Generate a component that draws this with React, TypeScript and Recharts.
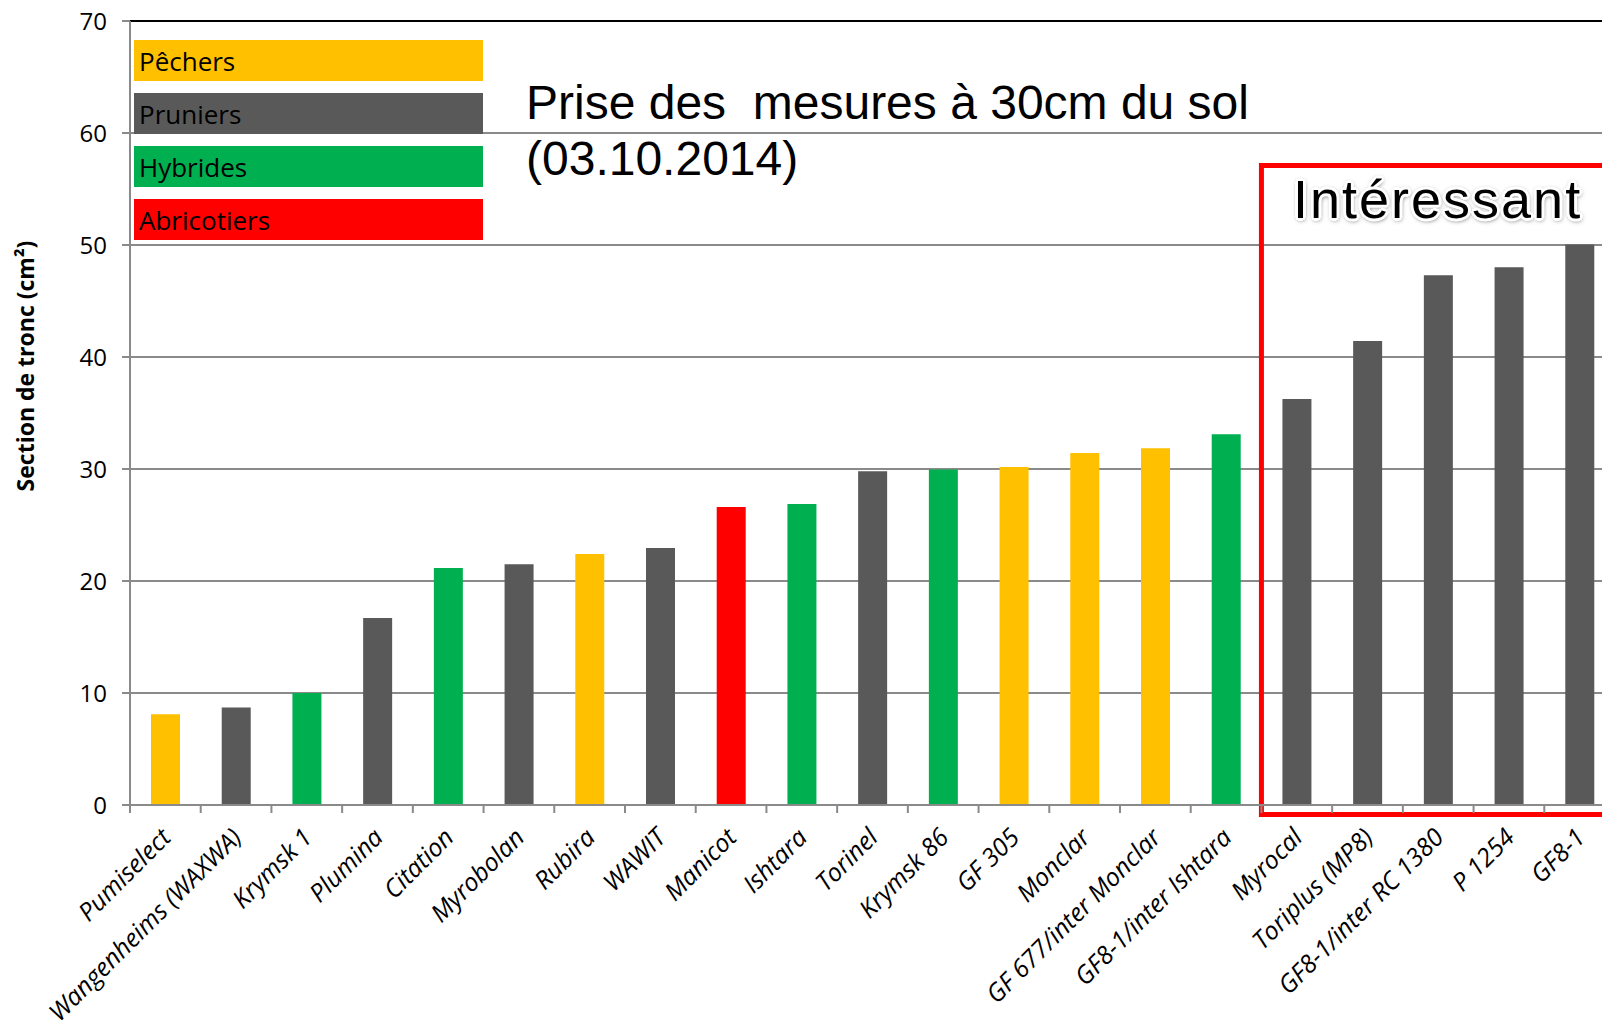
import React from "react";
import {
  BarChart,
  Bar,
  Cell,
  XAxis,
  YAxis,
  CartesianGrid,
  ReferenceLine,
  ReferenceArea,
} from "recharts";

// Porte-greffes, classés par section de tronc croissante
const CATEGORIES = [
  "Pumiselect",
  "Wangenheims (WAXWA)",
  "Krymsk 1",
  "Plumina",
  "Citation",
  "Myrobolan",
  "Rubira",
  "WAWIT",
  "Manicot",
  "Ishtara",
  "Torinel",
  "Krymsk 86",
  "GF 305",
  "Monclar",
  "GF 677/inter Monclar",
  "GF8-1/inter Ishtara",
  "Myrocal",
  "Toriplus (MP8)",
  "GF8-1/inter RC 1380",
  "P 1254",
  "GF8-1",
];

// Section de tronc (cm²)
const SECTIONS = [
  8.1, 8.7, 10.0, 16.7, 21.15, 21.5, 22.4, 22.95, 26.6, 26.87, 29.8, 29.95,
  30.17, 31.43, 31.85, 33.1, 36.25, 41.42, 47.3, 48.02, 50.05,
];

// 0 = pêchers, 1 = pruniers, 2 = hybrides, 3 = abricotiers
const CATEGORY_GROUP = [0, 1, 2, 1, 2, 1, 0, 1, 3, 2, 1, 2, 0, 0, 0, 2, 1, 1, 1, 1, 1];

const GROUP_LABELS = ["Pêchers", "Pruniers", "Hybrides", "Abricotiers"];
const GROUP_COLORS = ["#FFC000", "#595959", "#00B050", "#FF0000"];

const Y_TICKS = [0, 10, 20, 30, 40, 50, 60, 70];

// cadre "Intéressant"
const BOX_FROM = "Myrocal";
const BOX_TO = "GF8-1";
const BOX_BOTTOM = -0.85;
const BOX_TOP = 57.1;

const CHART_W = 1615;
const CHART_H = 1028;
const Y_AXIS_W = 130;
const TOP = 21;
const X_AXIS_H = 223;
const LABEL_MARGIN = 27;
const STEP = (CHART_W - Y_AXIS_W) / CATEGORIES.length;

const GRID = "#8a8a8a";
const FONT = "'Open Sans', 'Noto Sans', sans-serif";

const data = CATEGORIES.map((name, i) => ({
  name,
  value: SECTIONS[i],
  group: CATEGORY_GROUP[i],
}));

function CategoryTick(props: any) {
  const { x, y, payload, index } = props;
  const axisY = y - LABEL_MARGIN;
  return (
    <g>
      {index === 0 && (
        <line x1={x - STEP / 2} x2={x - STEP / 2} y1={axisY} y2={axisY + 8} stroke={GRID} strokeWidth={2} />
      )}
      <line x1={x + STEP / 2} x2={x + STEP / 2} y1={axisY} y2={axisY + 8} stroke={GRID} strokeWidth={2} />
      <text
        x={x}
        y={y}
        transform={`rotate(-45 ${x} ${y})`}
        textAnchor="end"
        dominantBaseline="central"
        fontFamily={FONT}
        fontStyle="italic"
        fontSize={25}
        fill="#000"
      >
        {payload.value}
      </text>
    </g>
  );
}

function AxisTitle() {
  return (
    <text
      x={25}
      y={366}
      transform="rotate(-90 25 366)"
      textAnchor="middle"
      dominantBaseline="central"
      fontFamily={FONT}
      fontWeight="bold"
      fontSize={23}
      fill="#000"
    >
      Section de tronc (cm²)
    </text>
  );
}

export default function App() {
  return (
    <div
      style={{
        position: "fixed",
        left: 0,
        top: 0,
        width: 1602,
        height: 1028,
        overflow: "hidden",
        background: "#fff",
        fontFamily: FONT,
      }}
    >
      <BarChart
        width={CHART_W}
        height={CHART_H}
        data={data}
        margin={{ top: TOP, right: 0, left: 0, bottom: 0 }}
      >
        <CartesianGrid vertical={false} stroke={GRID} strokeWidth={2} />
        <XAxis
          dataKey="name"
          interval={0}
          height={X_AXIS_H}
          tickSize={0}
          tickMargin={LABEL_MARGIN}
          tickLine={false}
          axisLine={{ stroke: GRID, strokeWidth: 2 }}
          tick={<CategoryTick />}
        />
        <YAxis
          width={Y_AXIS_W}
          domain={[0, 70]}
          ticks={Y_TICKS}
          interval={0}
          tickSize={8}
          tickMargin={15}
          axisLine={{ stroke: GRID, strokeWidth: 2 }}
          tickLine={{ stroke: GRID, strokeWidth: 2 }}
          tick={{ fill: "#000", fontSize: 24, fontFamily: FONT }}
          label={<AxisTitle />}
        />
        <ReferenceLine y={70} stroke="#000" strokeWidth={2} />
        <Bar dataKey="value" barSize={29} isAnimationActive={false}>
          {data.map((d, i) => (
            <Cell key={`cell-${i}`} fill={GROUP_COLORS[d.group]} />
          ))}
        </Bar>
        <ReferenceArea
          x1={BOX_FROM}
          x2={BOX_TO}
          y1={BOX_BOTTOM}
          y2={BOX_TOP}
          fill="none"
          fillOpacity={0}
          stroke="#FF0000"
          strokeWidth={5}
          strokeOpacity={1}
          ifOverflow="visible"
        />
      </BarChart>

      {/* Légende des groupes */}
      <div style={{ position: "absolute", left: 134, top: 40, width: 349 }}>
        {GROUP_LABELS.map((label, i) => (
          <div
            key={label}
            style={{
              height: 41,
              lineHeight: "43px",
              marginBottom: 12,
              background: GROUP_COLORS[i],
              color: "#000",
              fontSize: 26,
              paddingLeft: 5,
              whiteSpace: "nowrap",
            }}
          >
            {label}
          </div>
        ))}
      </div>

      {/* Titre */}
      <div
        style={{
          position: "absolute",
          left: 526,
          top: 75,
          fontFamily: "'Liberation Sans', Arial, sans-serif",
          fontSize: 48,
          lineHeight: "56px",
          color: "#000",
          whiteSpace: "pre",
        }}
      >
        {"Prise des  mesures à 30cm du sol\n(03.10.2014)"}
      </div>

      <div
        style={{
          position: "absolute",
          left: 1293,
          top: 172,
          fontFamily: "'Liberation Sans', Arial, sans-serif",
          fontSize: 54,
          lineHeight: "54px",
          letterSpacing: 2,
          color: "#000",
          whiteSpace: "nowrap",
          textShadow:
            "2px 0 #fff, -2px 0 #fff, 0 2px #fff, 0 -2px #fff, 2px 2px #fff, -2px -2px #fff, 2px -2px #fff, -2px 2px #fff, 3px 0 #fff, -3px 0 #fff, 0 3px #fff, 0 -3px #fff, 0 0 4px #333, 1px 2px 5px #555",
        }}
      >
        Intéressant
      </div>
    </div>
  );
}
